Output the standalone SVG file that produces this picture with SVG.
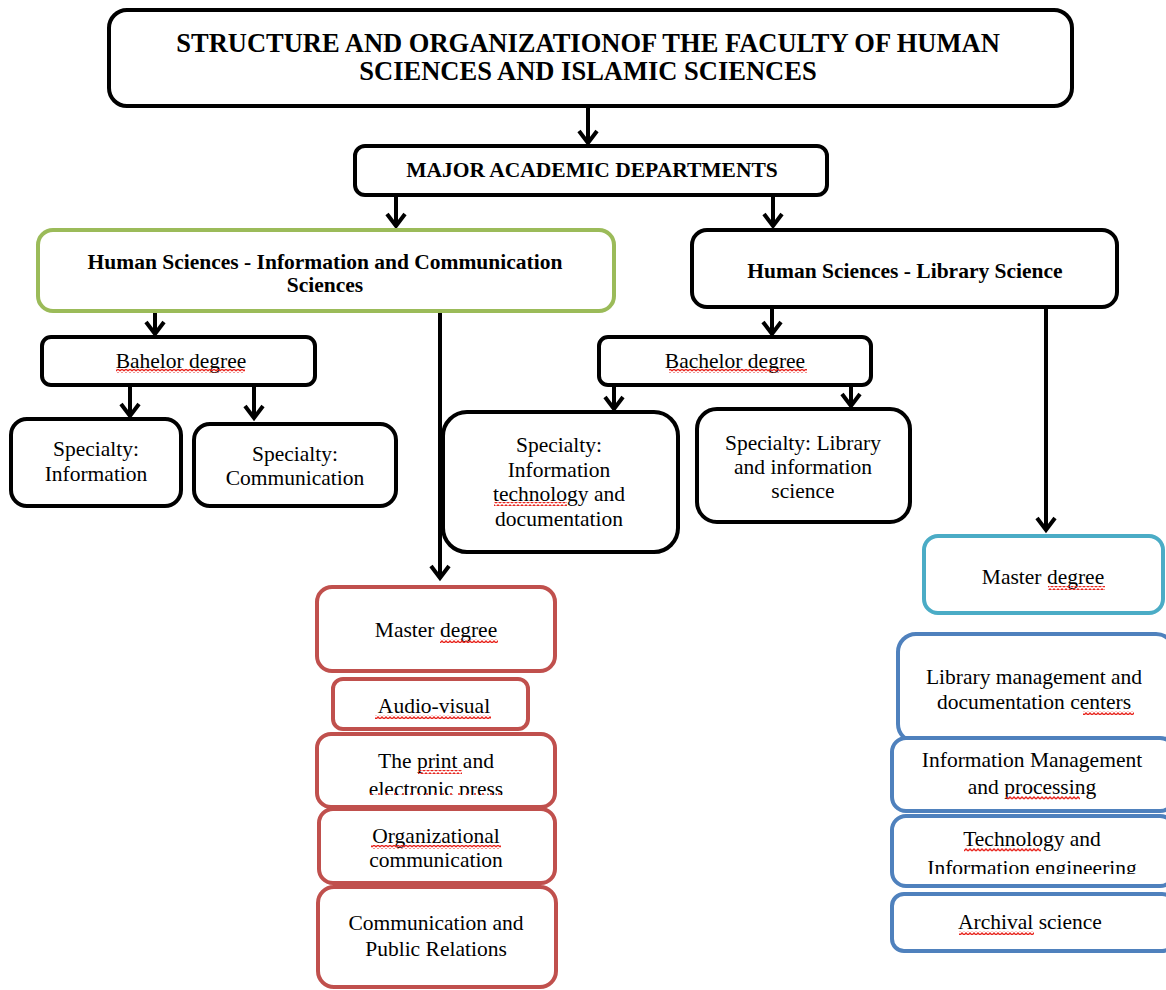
<svg xmlns="http://www.w3.org/2000/svg" width="1166" height="990" viewBox="0 0 1166 990">
<style>
.box{fill:#fff;stroke:#000;stroke-width:4}
.g{fill:#fff;stroke:#9BBB59;stroke-width:4}
.c{fill:#fff;stroke:#4BACC6;stroke-width:4}
.r{fill:#fff;stroke:#C0504D;stroke-width:4}
.b{fill:#fff;stroke:#4F81BD;stroke-width:4}
text{font-family:"Liberation Serif","Times New Roman",serif;fill:#000;text-anchor:middle}
.t{font-size:26.5px;font-weight:bold}
.h{font-size:21.5px;font-weight:bold}
.n{font-size:21.5px}
.conn{stroke:#000;stroke-width:4;fill:none}
.sq{fill:url(#squig)}
</style>
<defs>
<marker id="ah" markerUnits="userSpaceOnUse" markerWidth="30" markerHeight="30" refX="0" refY="0" viewBox="-15 -15 30 30" orient="auto" overflow="visible">
<path d="M-12,-9 L0,0 L-12,9" fill="none" stroke="#000" stroke-width="4" stroke-linejoin="miter"/>
</marker>
<pattern id="squig" patternUnits="userSpaceOnUse" width="4" height="4">
<path d="M0,3 L2,1 L4,3" fill="none" stroke="#E8251E" stroke-width="1.4"/>
</pattern>
<clipPath id="clipPrint"><rect x="316" y="733" width="240" height="62"/></clipPath>
<clipPath id="clipTech"><rect x="891" y="815" width="275" height="59"/></clipPath>
</defs>

<g id="connectors">
<line class="conn" x1="588" y1="106" x2="588" y2="143" marker-end="url(#ah)"/>
<line class="conn" x1="396" y1="195" x2="396" y2="226" marker-end="url(#ah)"/>
<line class="conn" x1="773" y1="195" x2="773" y2="226" marker-end="url(#ah)"/>
<line class="conn" x1="155" y1="300" x2="155" y2="334" marker-end="url(#ah)"/>
<line class="conn" x1="440" y1="305" x2="440" y2="578" marker-end="url(#ah)"/>
<line class="conn" x1="130" y1="385" x2="130" y2="416" marker-end="url(#ah)"/>
<line class="conn" x1="254" y1="385" x2="254" y2="418" marker-end="url(#ah)"/>
<line class="conn" x1="772" y1="308" x2="772" y2="334" marker-end="url(#ah)"/>
<line class="conn" x1="1046" y1="305" x2="1046" y2="530" marker-end="url(#ah)"/>
<line class="conn" x1="614" y1="386" x2="614" y2="409" marker-end="url(#ah)"/>
<line class="conn" x1="851" y1="386" x2="851" y2="406" marker-end="url(#ah)"/>
</g>

<g id="title">
<rect class="box" x="109" y="10" width="963" height="96" rx="18"/>
<text class="t" x="588" y="52">STRUCTURE AND ORGANIZATIONOF THE FACULTY OF HUMAN</text>
<text class="t" x="588" y="80">SCIENCES AND ISLAMIC SCIENCES</text>
</g>

<g id="major">
<rect class="box" x="355" y="146" width="472" height="49" rx="10"/>
<text class="h" x="592" y="177">MAJOR ACADEMIC DEPARTMENTS</text>
</g>

<g id="dept-info">
<rect class="g" x="38" y="230" width="576" height="81" rx="15"/>
<text class="h" x="325" y="269">Human Sciences - Information and Communication</text>
<text class="h" x="325" y="292">Sciences</text>
</g>

<g id="dept-lib">
<rect class="box" x="692" y="230" width="425" height="77" rx="15"/>
<text class="h" x="905" y="278">Human Sciences - Library Science</text>
</g>

<g id="bach-info">
<rect class="box" x="42" y="337" width="273" height="48" rx="9"/>
<text class="n" x="181" y="368">Bahelor degree</text>
<rect class="sq" x="116" y="369" width="129" height="4"/>
</g>

<g id="spec-information">
<rect class="box" x="11" y="419" width="170" height="87" rx="16"/>
<text class="n" x="96" y="456">Specialty:</text>
<text class="n" x="96" y="481">Information</text>
</g>

<g id="spec-communication">
<rect class="box" x="194" y="424" width="202" height="82" rx="16"/>
<text class="n" x="295" y="461">Specialty:</text>
<text class="n" x="295" y="485">Communication</text>
</g>

<g id="bach-lib">
<rect class="box" x="599" y="337" width="272" height="48" rx="9"/>
<text class="n" x="735" y="368">Bachelor degree</text>
<rect class="sq" x="669" y="369" width="138" height="4"/>
</g>

<g id="spec-it">
<rect class="box" x="443" y="412" width="235" height="140" rx="24"/>
<text class="n" x="559" y="452">Specialty:</text>
<text class="n" x="559" y="477">Information</text>
<text class="n" x="559" y="501">technology and</text>
<text class="n" x="559" y="526">documentation</text>
<rect class="sq" x="494" y="502" width="73" height="4"/>
</g>

<g id="spec-lib">
<rect class="box" x="697" y="409" width="213" height="113" rx="20"/>
<text class="n" x="803" y="450">Specialty: Library</text>
<text class="n" x="803" y="474">and information</text>
<text class="n" x="803" y="498">science</text>
</g>

<g id="master-lib">
<rect class="c" x="924" y="536" width="239" height="77" rx="14"/>
<text class="n" x="1043" y="584">Master degree</text>
<rect class="sq" x="1048" y="586" width="57" height="4"/>
</g>

<g id="master-info">
<rect class="r" x="317" y="587" width="238" height="84" rx="15"/>
<text class="n" x="436" y="637">Master degree</text>
<rect class="sq" x="440" y="639" width="58" height="4"/>
</g>

<g id="audio-visual">
<rect class="r" x="333" y="679" width="195" height="50" rx="10"/>
<text class="n" x="434" y="713">Audio-visual</text>
<rect class="sq" x="375" y="715" width="116" height="4"/>
</g>

<g id="print-press">
<rect class="r" x="317" y="734" width="238" height="73" rx="14"/>
<g clip-path="url(#clipPrint)">
<text class="n" x="436" y="768">The print and</text>
<text class="n" x="436" y="796">electronic press</text>
</g>
<rect class="sq" x="418" y="770" width="44" height="4"/>
<line x1="370" y1="794" x2="502" y2="794" stroke="#E8251E" stroke-width="1.5" stroke-dasharray="2 6"/>
</g>

<g id="org-comm">
<rect class="r" x="319" y="809" width="236" height="74" rx="14"/>
<text class="n" x="436" y="843">Organizational</text>
<text class="n" x="436" y="867">communication</text>
<rect class="sq" x="371" y="845" width="130" height="4"/>
</g>

<g id="comm-pr">
<rect class="r" x="318" y="887" width="238" height="100" rx="16"/>
<text class="n" x="436" y="930">Communication and</text>
<text class="n" x="436" y="956">Public Relations</text>
</g>

<g id="lib-mgmt">
<rect class="b" x="898" y="634" width="276" height="108" rx="18"/>
<text class="n" x="1034" y="684">Library management and</text>
<text class="n" x="1034" y="709">documentation centers</text>
<rect class="sq" x="1083" y="711" width="51" height="4"/>
</g>

<g id="info-mgmt">
<rect class="b" x="892" y="738" width="282" height="73" rx="14"/>
<text class="n" x="1032" y="767">Information Management</text>
<text class="n" x="1032" y="794">and processing</text>
<rect class="sq" x="1006" y="796" width="74" height="4"/>
</g>

<g id="tech-eng">
<rect class="b" x="892" y="816" width="282" height="70" rx="14"/>
<g clip-path="url(#clipTech)">
<text class="n" x="1032" y="846">Technology and</text>
<text class="n" x="1032" y="875">Information engineering</text>
</g>
<rect class="sq" x="964" y="848" width="77" height="4"/>
</g>

<g id="archival">
<rect class="b" x="892" y="894" width="282" height="57" rx="12"/>
<text class="n" x="1030" y="929">Archival science</text>
<rect class="sq" x="959" y="931" width="75" height="4"/>
</g>
</svg>
